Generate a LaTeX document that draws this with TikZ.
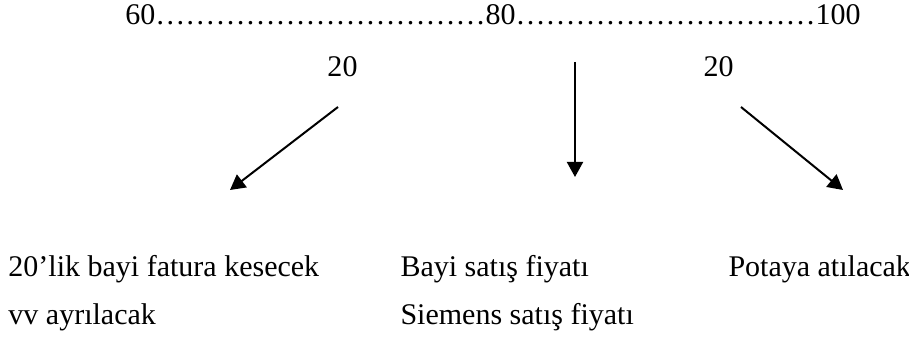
\documentclass[tikz,border=0pt]{standalone}
\usepackage{fontspec}
\setmainfont{Liberation Serif}
\usetikzlibrary{arrows.meta}
% a run of n ellipsis characters
\newcommand{\ellrun}[1]{\foreach \k in {1,...,#1}{…}}
\begin{document}
\begin{tikzpicture}[x=0.4pt,y=-0.4pt,
  lbl/.style={inner sep=0pt,anchor=base west,font=\fontsize{12pt}{14pt}\selectfont},
  arr/.style={line width=0.8pt,-{Triangle[length=6pt,width=6.4pt]}}]
  \useasboundingbox (0,0) rectangle (909,338);
  % scale line
  \node[lbl] (scale) at (125,25) {60\ellrun{11}80\ellrun{10}100};
  % differences
  \node[lbl] (dl) at (327,77) {20};
  \node[lbl] (dr) at (703,77) {20};
  % arrow ends
  \coordinate (ls) at (338,107);
  \coordinate (le) at (230,190);
  \coordinate (ms) at (575,62);
  \coordinate (me) at (575,177);
  \coordinate (rs) at (741,107);
  \coordinate (re) at (843,190);
  \draw[arr] (ls) -- (le);
  \draw[arr] (ms) -- (me);
  \draw[arr] (rs) -- (re);
  % outcomes
  \node[lbl] (a1) at (8,277) {20’lik bayi fatura kesecek};
  \node[lbl] (a2) at (8,325) {vv ayrılacak};
  \node[lbl] (b1) at (400,277) {Bayi satış fiyatı};
  \node[lbl] (b2) at (400,325) {Siemens satış fiyatı};
  \node[lbl] (c1) at (728,277) {Potaya atılacak};
\end{tikzpicture}
\end{document}
